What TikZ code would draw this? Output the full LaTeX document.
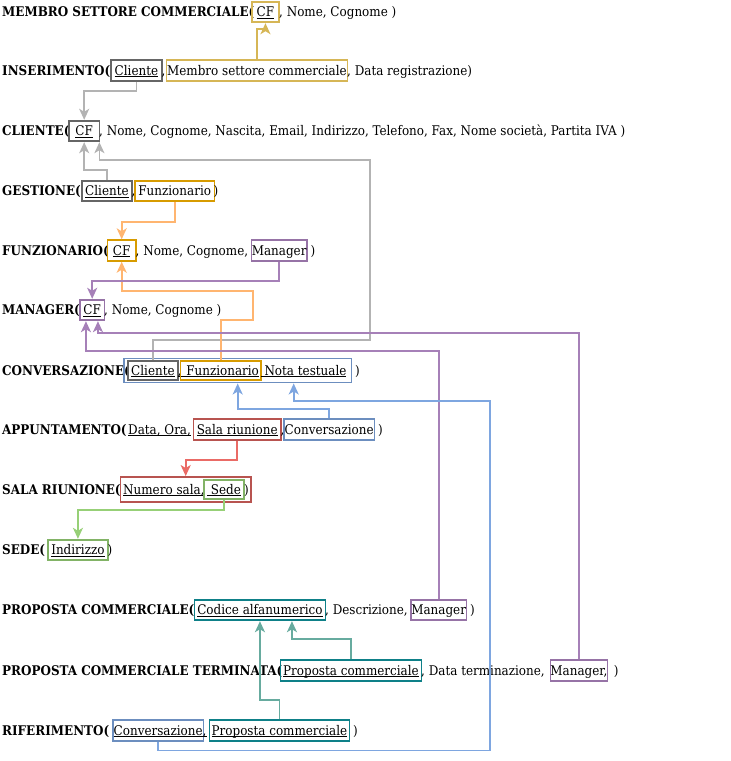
\documentclass[tikz,border=0pt]{standalone}
\usepackage{fontspec}
\setmainfont{DejaVu Serif Condensed}
\usetikzlibrary{arrows.meta}

% border colours of the key boxes
\definecolor{kgold}{HTML}{D6B656}
\definecolor{kgray}{HTML}{666666}
\definecolor{korange}{HTML}{D79B00}
\definecolor{kpurple}{HTML}{9673A6}
\definecolor{kblue}{HTML}{6C8EBF}
\definecolor{kred}{HTML}{B85450}
\definecolor{kgreen}{HTML}{82B366}
\definecolor{kteal}{HTML}{0E8088}
% colours of the reference links
\definecolor{lgold}{HTML}{D6B656}
\definecolor{lgray}{HTML}{B3B3B3}
\definecolor{lorange}{HTML}{FFB570}
\definecolor{lpurple}{HTML}{A680B8}
\definecolor{lblue}{HTML}{7EA6E0}
\definecolor{lred}{HTML}{EA6B66}
\definecolor{lgreen}{HTML}{97D077}
\definecolor{lteal}{HTML}{67AB9F}

% underline at a fixed distance below the baseline
\newsavebox{\keyulbox}
\newcommand{\keyul}[1]{\sbox{\keyulbox}{#1}\rlap{\rule[-1.6pt]{\wd\keyulbox}{0.75pt}}\usebox{\keyulbox}}

\tikzset{
  base/.style={inner xsep=0pt, inner ysep=0pt, text height=12pt, text depth=2.5pt,
               anchor=west, font=\fontsize{13.3}{15}\selectfont},
  tbl/.style={base, font=\fontsize{13.3}{15}\selectfont\bfseries},
  txt/.style={base},
  keybox/.style={base, draw=#1, line width=1.9pt, minimum height=20.5pt},
  link/.style={draw=#1, line width=1.8pt,
               -{Stealth[length=11pt,width=10pt,inset=3pt]}},
}

\begin{document}
\begin{tikzpicture}[x=1pt,y=-1pt]
\useasboundingbox (0,0) rectangle (731,761);

% MEMBRO SETTORE COMMERCIALE
\node[tbl] (t1) at (2,12) {MEMBRO SETTORE COMMERCIALE(};
\node[keybox=kgold, minimum width=27] (mscf) at (251,12) {\keyul{CF}};
\node[txt] (t1b) at (279,12) {, Nome, Cognome )};

% INSERIMENTO
\node[tbl] (t2) at (2,70.5) {INSERIMENTO(};
\node[keybox=kgray, minimum width=51] (inscli) at (110,70.5) {\keyul{Cliente}};
\node[txt] (t2a) at (161.5,70.5) {,};
\node[keybox=kgold, minimum width=181] (insms) at (165.5,70.5) {Membro settore commerciale};
\node[txt] (t2b) at (347,70.5) {, Data registrazione)};

% CLIENTE
\node[tbl] (t3) at (2,131) {CLIENTE(};
\node[keybox=kgray, minimum width=30.5] (clicf) at (68,131) {\keyul{CF}\ };
\node[txt] (t3b) at (99,131) {, Nome, Cognome, Nascita, Email, Indirizzo, Telefono, Fax, Nome società, Partita IVA )};

% GESTIONE
\node[tbl] (t4) at (2,191) {GESTIONE(};
\node[keybox=kgray, minimum width=50] (gescli) at (81,191) {\keyul{Cliente}};
\node[txt] (t4a) at (131.5,191) {,};
\node[keybox=korange, minimum width=79.5] (gesfun) at (134,191) {Funzionario\ };
\node[txt] (t4b) at (213.5,191) {)};

% FUNZIONARIO
\node[tbl] (t5) at (2,250.5) {FUNZIONARIO(};
\node[keybox=korange, minimum width=28.5] (funcf) at (106.5,250.5) {\keyul{CF}\ };
\node[txt] (t5a) at (135.5,250.5) {,\ Nome, Cognome,};
\node[keybox=kpurple, minimum width=55.5] (funman) at (250.5,250.5) {Manager};
\node[txt] (t5b) at (306.5,250.5) {\ )};

% MANAGER
\node[tbl] (t6) at (2,310) {MANAGER(};
\node[keybox=kpurple, minimum width=24.5] (mancf) at (79,310) {\keyul{CF}};
\node[txt] (t6b) at (104,310) {, Nome, Cognome )};

% CONVERSAZIONE
\node[tbl] (t7) at (2,370.5) {CONVERSAZIONE(};
\node[keybox=kblue, minimum width=227.5, minimum height=24] (conv) at (123,370.5) {};
\node[keybox=kgray, minimum width=50, minimum height=19] (convcli) at (127,370.5) {\keyul{Cliente}};
\node[txt] (t7a) at (177.5,370.5) {\keyul{,}};
\node[keybox=korange, minimum width=80.5, minimum height=19] (convfun) at (179.5,370.5) {\keyul{\ Funzionario}};
\node[txt] (t7b) at (260.5,370.5) {\keyul{\ Nota testuale}};
\node[txt] (t7c) at (351,370.5) {\ )};

% APPUNTAMENTO
\node[tbl] (t8) at (2,429.5) {APPUNTAMENTO(};
\node[txt] (t8a) at (128,429.5) {\keyul{Data, Ora,}};
\node[keybox=kred, minimum width=87.5] (appsala) at (192.5,429.5) {\keyul{Sala riunione}};
\node[txt] (t8b) at (280.5,429.5) {,};
\node[keybox=kblue, minimum width=90.5] (appconv) at (283,429.5) {Conversazione\ };
\node[txt] (t8c) at (374,429.5) {\ )};

% SALA RIUNIONE
\node[tbl] (t9) at (2,489.5) {SALA RIUNIONE(};
\node[keybox=kred, minimum width=130.5, minimum height=25] (sala) at (119.5,489.5) {};
\node[txt] (t9a) at (123,489.5) {\keyul{Numero sala,}};
\node[keybox=kgreen, minimum width=40, minimum height=19] (salasede) at (203,489.5) {\keyul{\ Sede}};
\node[txt] (t9b) at (244,489.5) {)};

% SEDE
\node[tbl] (t10) at (2,550) {SEDE(};
\node[keybox=kgreen, minimum width=60] (sedeind) at (47,550) {\keyul{Indirizzo}\ };
\node[txt] (t10b) at (107.5,550) {)};

% PROPOSTA COMMERCIALE
\node[tbl] (t11) at (2,610) {PROPOSTA COMMERCIALE(};
\node[keybox=kteal, minimum width=131] (pccod) at (193.5,610) {\keyul{Codice alfanumerico}};
\node[txt] (t11a) at (325,610) {, Descrizione,};
\node[keybox=kpurple, minimum width=55.5] (pcman) at (410,610) {Manager};
\node[txt] (t11b) at (466,610) {\ )};

% PROPOSTA COMMERCIALE TERMINATA
\node[tbl] (t12) at (2,670.5) {PROPOSTA COMMERCIALE TERMINATA(};
\node[keybox=kteal, minimum width=141] (pctpc) at (279.5,670.5) {\keyul{Proposta commerciale}};
\node[txt] (t12a) at (421,670.5) {, Data terminazione,};
\node[keybox=kpurple, minimum width=55.5] (pctman) at (549.5,670.5) {Manager,};
\node[txt] (t12b) at (606,670.5) {\ \ )};

% RIFERIMENTO
\node[tbl] (t13) at (2,730.5) {RIFERIMENTO(};
\node[keybox=kblue, minimum width=90.5] (rifconv) at (112,730.5) {\keyul{Conversazione}};
\node[txt] (t13a) at (202.5,730.5) {\keyul{,}};
\node[keybox=kteal, minimum width=140] (rifpc) at (208.5,730.5) {\keyul{Proposta commerciale}};
\node[txt] (t13b) at (349,730.5) {\ )};

% bend points of the long links
\coordinate (gsA) at (370,340);
\coordinate (gsB) at (370,160);
\coordinate (orA) at (253,320);
\coordinate (orB) at (253,291);
\coordinate (blA) at (490,750.5);
\coordinate (blB) at (490,401);

% foreign keys
\draw[link=lgold] (insms.north) -- ++(0,-30.5) -| (mscf.south);
\draw[link=lgray] (inscli.south) -- ++(0,9.5) -| (clicf.north);
\draw[link=lgray] (gescli.north) -- ++(0,-10) -| (clicf.south);
\draw[link=lgray] (convcli.north) |- (gsA) -- (gsB) -| ([xshift=-1pt]clicf.south east);
\draw[link=lorange] (gesfun.south) -- ++(0,20) -| (funcf.north);
\draw[link=lorange] (convfun.north) |- (orA) -- (orB) -| (funcf.south);
\draw[link=lpurple] (funman.south) -- ++(0,19.5) -| (mancf.north);
\draw[link=lpurple] (pcman.north) |- ([xshift=-6.25pt]mancf.south |- 0,351) -- ([xshift=-6.25pt]mancf.south);
\draw[link=lpurple] (pctman.north) |- ([xshift=5.75pt]mancf.south |- 0,333) -- ([xshift=5.75pt]mancf.south);
\draw[link=lblue] (appconv.north) -- ++(0,-9) -| (conv.south);
\draw[link=lblue] (rifconv.south) |- (blA) -- (blB) -| ([xshift=56pt]conv.south);
\draw[link=lred] (appsala.south) -- ++(0,19.5) -| (sala.north);
\draw[link=lgreen] (salasede.south) -- ++(0,10) -| (sedeind.north);
\draw[link=lteal] (pctpc.north) -- ++(0,-20.5) -| ([xshift=32pt]pccod.south);
\draw[link=lteal] (rifpc.north) -- ++(0,-19.5) -| (pccod.south);
\end{tikzpicture}
\end{document}
